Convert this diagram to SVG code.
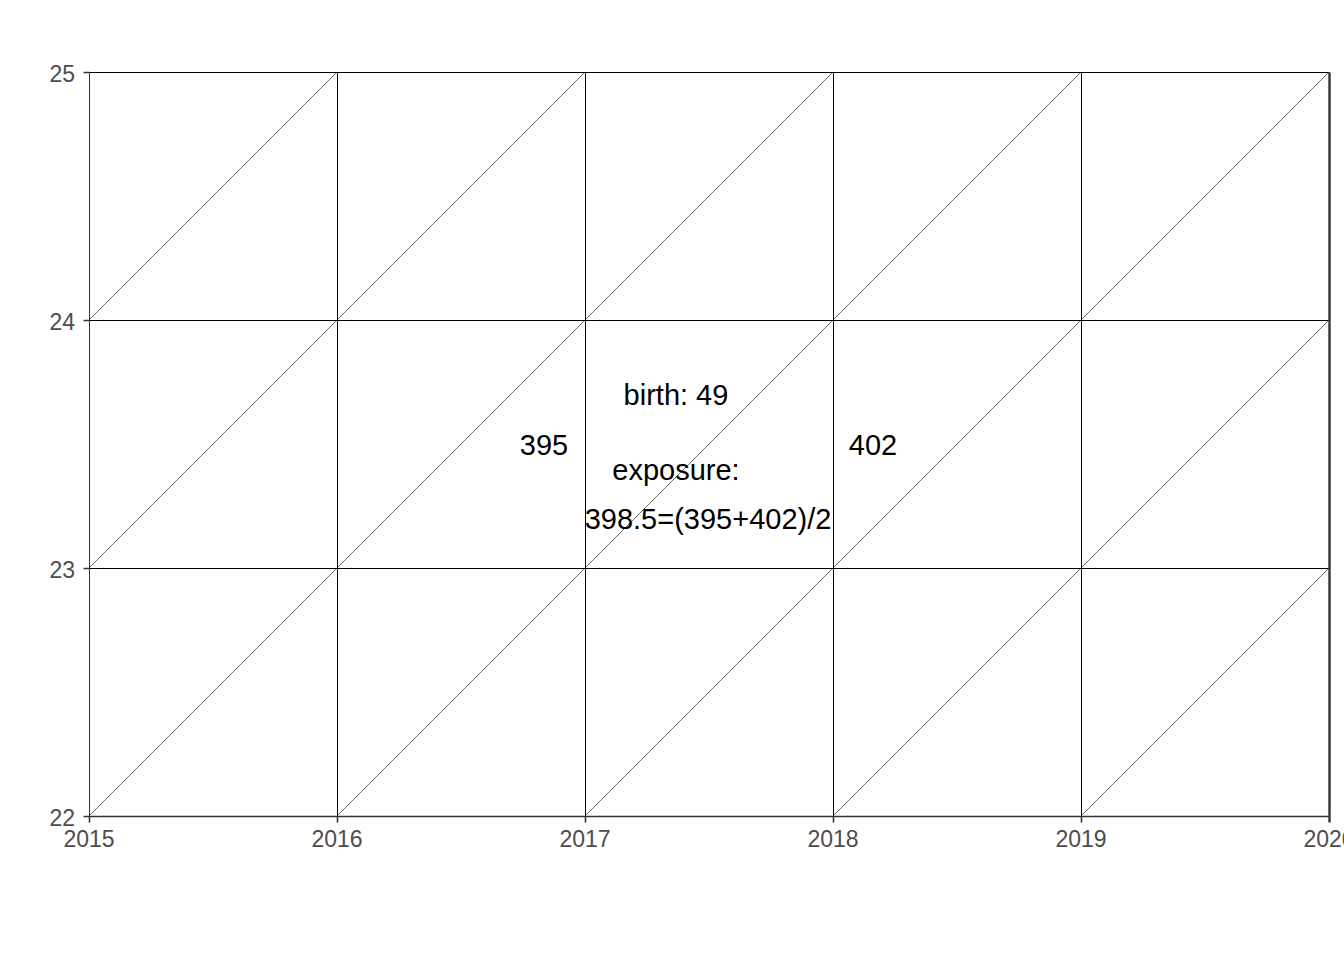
<svg xmlns="http://www.w3.org/2000/svg" width="1344" height="960" viewBox="0 0 1344 960">
<style>
.grid{stroke:#000;stroke-width:1;fill:none}
.diag{stroke:#000;stroke-width:0.6;fill:none}
.axis{stroke:#333;fill:none}
.tick{font-family:"Liberation Sans",Arial,sans-serif;font-size:23px;fill:#4D4D4D}
.lbl{font-family:"Liberation Sans",Arial,sans-serif;font-size:29px;fill:#000;text-anchor:middle}
</style>
<rect width="1344" height="960" fill="#fff"/>
<g id="grid" transform="translate(0.5,0.5)">
<path class="grid" d="M89,72H1329M89,320H1329M89,568H1329M337,72V816M585,72V816M833,72V816M1081,72V816"/>
</g>
<g id="diagonals">
<path class="diag" d="M89,320L337,72M337,320L585,72M585,320L833,72M833,320L1081,72M1081,320L1329,72
M89,568L337,320M337,568L585,320M585,568L833,320M833,568L1081,320M1081,568L1329,320
M89,816L337,568M337,816L585,568M585,816L833,568M833,816L1081,568M1081,816L1329,568"/>
</g>
<g id="axes" transform="translate(0.5,0.5)">
<path class="axis" stroke-width="1" stroke="#000" d="M89,72V816"/>
<path class="axis" stroke-width="1.6" d="M89,816H1329"/>
<path class="axis" stroke-width="2.4" d="M1329,72V822"/>
<path class="axis" stroke-width="1.6" d="M83,72H89M83,320H89M83,568H89M83,816H89M89,816V822M337,816V822M585,816V822M833,816V822M1081,816V822"/>
</g>
<g id="ylabels" class="tick" text-anchor="end">
<text x="75" y="82">25</text>
<text x="75" y="330">24</text>
<text x="75" y="578">23</text>
<text x="75" y="826">22</text>
</g>
<g id="xlabels" class="tick" text-anchor="middle">
<text x="89" y="847">2015</text>
<text x="337" y="847">2016</text>
<text x="585" y="847">2017</text>
<text x="833" y="847">2018</text>
<text x="1081" y="847">2019</text>
<text x="1329" y="847">2020</text>
</g>
<g id="annotations">
<text class="lbl" x="676" y="405">birth: 49</text>
<text class="lbl" x="544" y="455">395</text>
<text class="lbl" x="873" y="455">402</text>
<text class="lbl" x="676" y="480">exposure:</text>
<text class="lbl" x="708" y="529">398.5=(395+402)/2</text>
</g>
</svg>
